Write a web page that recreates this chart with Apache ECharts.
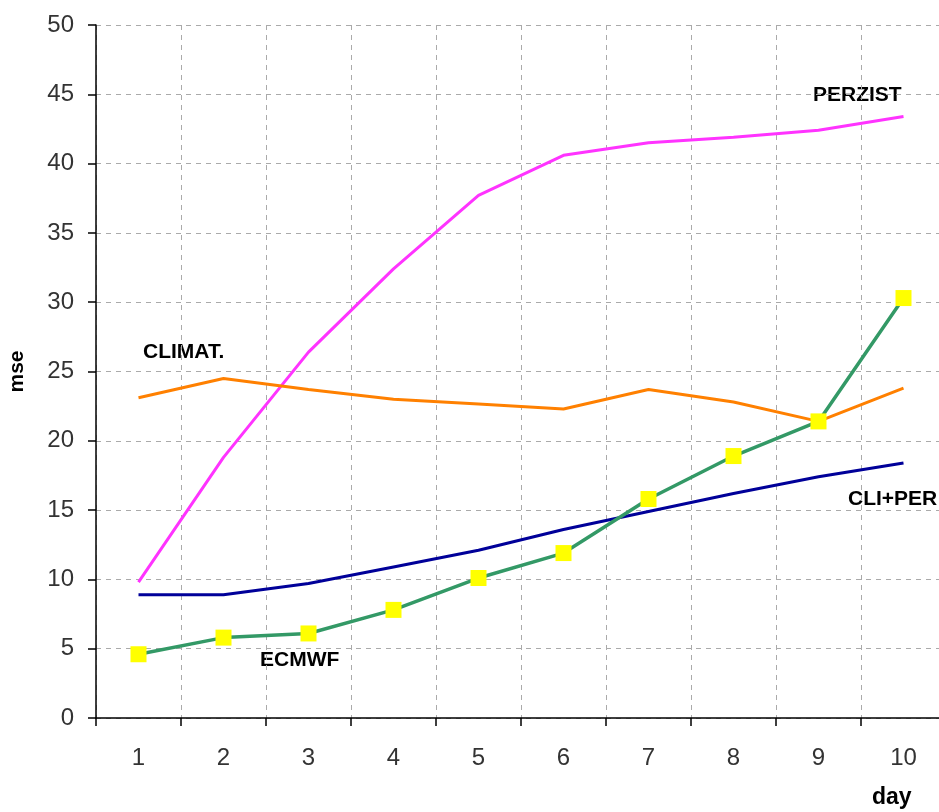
<!DOCTYPE html>
<html>
<head>
<meta charset="utf-8">
<script src="https://cdn.jsdelivr.net/npm/echarts@6/dist/echarts.min.js"></script>
<style>
  html, body { margin: 0; padding: 0; background: #fff; }
  #chart { width: 939px; height: 812px; }
</style>
</head>
<body>
<div id="chart"></div>
<script>
// data
const days = ['1', '2', '3', '4', '5', '6', '7', '8', '9', '10'];
const perzist = [9.8, 18.8, 26.4, 32.4, 37.7, 40.6, 41.5, 41.9, 42.4, 43.4];
const climat = [23.1, 24.5, 23.7, 23.0, 22.65, 22.3, 23.7, 22.8, 21.4, 23.8];
const cliPer = [8.9, 8.9, 9.7, 10.9, 12.1, 13.6, 14.9, 16.2, 17.4, 18.4];
const ecmwf = [4.6, 5.8, 6.1, 7.8, 10.1, 11.9, 15.8, 18.9, 21.4, 30.3];

const chart = echarts.init(document.getElementById('chart'));

const font = 'Liberation Sans, Arial, sans-serif';
const labelStyle = {
    fontFamily: font,
    fontWeight: 'bold',
    fontSize: 21,
    fill: '#000'
};

const option = {
    animation: false,
    grid: {
        left: 96,
        right: -7,
        top: 25,
        bottom: 94,
        outerBoundsMode: 'none'
    },
    xAxis: {
        type: 'category',
        data: days,
        boundaryGap: true,
        axisLine: { lineStyle: { color: '#000', width: 1.5 } },
        axisTick: { show: true, length: 8, lineStyle: { color: '#000', width: 1.5 } },
        axisLabel: {
            margin: 28,
            fontSize: 24,
            color: '#333',
            fontFamily: font
        },
        splitLine: {
            show: true,
            lineStyle: { color: '#aaa', type: [5, 5], width: 1 }
        }
    },
    yAxis: {
        type: 'value',
        min: 0,
        max: 50,
        interval: 5,
        name: 'mse',
        nameLocation: 'middle',
        nameRotate: 90,
        nameGap: 68,
        nameTextStyle: {
            fontSize: 21,
            fontWeight: 'bold',
            color: '#000',
            fontFamily: font
        },
        axisLine: { show: true, lineStyle: { color: '#000', width: 1.5 } },
        axisTick: { show: true, length: 8, lineStyle: { color: '#000', width: 1.5 } },
        axisLabel: {
            margin: 22,
            fontSize: 24,
            color: '#333',
            fontFamily: font
        },
        splitLine: {
            show: true,
            lineStyle: { color: '#aaa', type: [5, 5], width: 1 }
        }
    },
    series: [
        {
            name: 'PERZIST',
            type: 'line',
            data: perzist,
            showSymbol: false,
            lineStyle: { color: '#ff33ff', width: 3 }
        },
        {
            name: 'CLIMAT.',
            type: 'line',
            data: climat,
            showSymbol: false,
            lineStyle: { color: '#ff8000', width: 3 }
        },
        {
            name: 'CLI+PER',
            type: 'line',
            data: cliPer,
            showSymbol: false,
            lineStyle: { color: '#000099', width: 3 }
        },
        {
            name: 'ECMWF',
            type: 'line',
            data: ecmwf,
            symbol: 'rect',
            symbolSize: 16,
            itemStyle: { color: '#ffff00', borderWidth: 0 },
            lineStyle: { color: '#339966', width: 3.5 }
        }
    ],
    graphic: [
        { type: 'text', left: 813, top: 85, style: Object.assign({ text: 'PERZIST' }, labelStyle) },
        { type: 'text', left: 143, top: 342, style: Object.assign({ text: 'CLIMAT.' }, labelStyle) },
        { type: 'text', left: 848, top: 489, style: Object.assign({ text: 'CLI+PER' }, labelStyle) },
        { type: 'text', left: 260, top: 650, style: Object.assign({ text: 'ECMWF' }, labelStyle) },
        { type: 'text', left: 872, top: 786, style: Object.assign({}, labelStyle, { text: 'day', fontSize: 23 }) }
    ]
};

chart.setOption(option);
</script>
</body>
</html>
